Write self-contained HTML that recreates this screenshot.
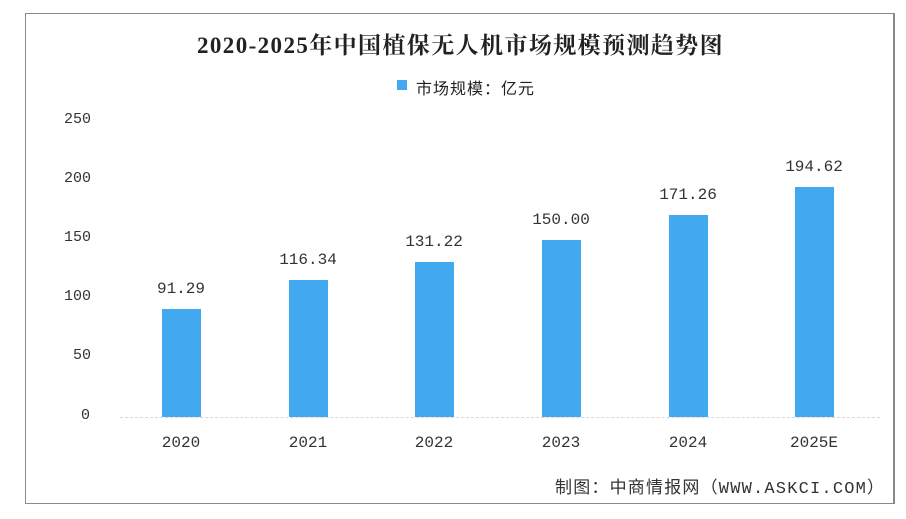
<!DOCTYPE html>
<html><head><meta charset="utf-8"><style>
body{margin:0;background:#fff;width:906px;height:519px;position:relative;overflow:hidden;font-family:"Liberation Serif","Noto Serif CJK SC",serif;}
.box{position:absolute;left:25px;top:13px;width:867px;height:489px;border:1px solid #8a8a8a;border-right-width:2px;}
.t{position:absolute;white-space:nowrap;color:#222;}
.bar{position:absolute;width:39px;background:#42a8f0;}
.yl{position:absolute;left:64px;font-size:15px;color:#333;font-family:"Liberation Mono",monospace;}
.v{position:absolute;width:120px;text-align:center;font-size:16px;color:#333;font-family:"Liberation Mono",monospace;}
.x{position:absolute;width:120px;text-align:center;font-size:16px;color:#333;top:434px;font-family:"Liberation Mono",monospace;}
</style></head><body>
<div class="box"></div>
<div class="t" style="left:197px;top:27px;font-size:23px;letter-spacing:1.4px;font-weight:bold;font-family:'Liberation Serif','Noto Serif CJK SC',serif;">2020-2025年中国植保无人机市场规模预测趋势图</div>
<div style="position:absolute;left:397px;top:80px;width:10px;height:10px;background:#42a8f0;"></div>
<div class="t" style="left:416px;top:75px;font-size:16px;letter-spacing:1px;font-family:'Liberation Sans','Noto Sans CJK SC',sans-serif;">市场规模：亿元</div>
<div class="yl" style="top:111px">250</div>
<div class="yl" style="top:170px">200</div>
<div class="yl" style="top:229px">150</div>
<div class="yl" style="top:288px">100</div>
<div class="yl" style="top:347px;left:73px">50</div>
<div class="yl" style="top:407px;left:81px">0</div>
<div style="position:absolute;left:120px;top:417px;width:760px;border-top:1px dashed #d8d8d8;"></div>
<div class="bar" style="left:162px;top:309px;height:108px"></div>
<div class="bar" style="left:289px;top:280px;height:137px"></div>
<div class="bar" style="left:415px;top:262px;height:155px"></div>
<div class="bar" style="left:542px;top:240px;height:177px"></div>
<div class="bar" style="left:669px;top:215px;height:202px"></div>
<div class="bar" style="left:795px;top:187px;height:230px"></div>
<div class="v" style="left:121px;top:280px">91.29</div>
<div class="v" style="left:248px;top:251px">116.34</div>
<div class="v" style="left:374px;top:233px">131.22</div>
<div class="v" style="left:501px;top:211px">150.00</div>
<div class="v" style="left:628px;top:186px">171.26</div>
<div class="v" style="left:754px;top:158px">194.62</div>
<div class="x" style="left:121px">2020</div>
<div class="x" style="left:248px">2021</div>
<div class="x" style="left:374px">2022</div>
<div class="x" style="left:501px">2023</div>
<div class="x" style="left:628px">2024</div>
<div class="x" style="left:754px">2025E</div>
<div class="t" style="left:555px;top:473px;font-size:17px;letter-spacing:1.2px;color:#333;font-family:'Liberation Mono','Noto Sans CJK SC',monospace;">制图：中商情报网（WWW.ASKCI.COM）</div>
</body></html>
